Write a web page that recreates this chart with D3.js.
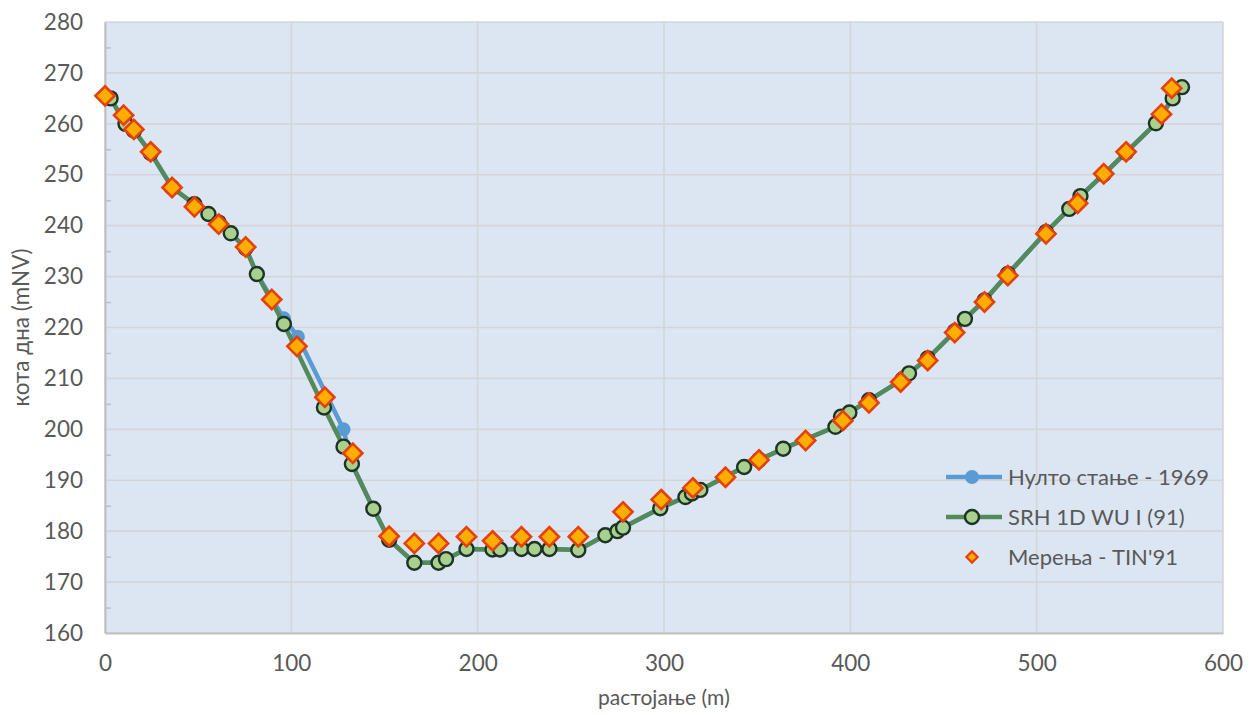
<!DOCTYPE html>
<html>
<head>
<meta charset="utf-8">
<script src="https://cdn.jsdelivr.net/npm/d3@7"></script>
<style>
  html, body { margin: 0; padding: 0; background: #ffffff; }
  svg { display: block; }
  text { font-family: Lato, "Open Sans", sans-serif; fill: #595959; }
</style>
</head>
<body>
<svg id="chart" width="1257" height="715"></svg>
<script>
// Cross-section of the river bed: distance (m) vs bed elevation (mNV)

// Нулто стање - 1969
const baseDist = [3, 11, 15.5, 24.5, 36, 48, 55.5, 61, 67.5, 75.5, 81.5, 96, 103.5, 128, 132.5, 144, 152.5, 166, 179, 183, 194, 208, 212, 223.5, 230.5, 238.5, 254, 268.5, 275, 278, 298, 311.5, 315, 319.5, 343, 351, 364, 392, 395, 399.5, 410, 428, 431.5, 441.5, 456, 461.5, 472, 484.5, 505, 517.5, 523.5, 536, 548, 564, 573, 578];
const baseElev = [265, 260, 258.7, 254.3, 247.5, 244.2, 242.3, 240.6, 238.5, 235.6, 230.5, 221.8, 218.2, 200, 193.2, 184.4, 178.3, 173.8, 173.8, 174.5, 176.5, 176.4, 176.4, 176.5, 176.5, 176.5, 176.3, 179.2, 180, 180.7, 184.5, 186.7, 187.4, 188.1, 192.6, 194, 196.2, 200.5, 202.5, 203.3, 205.7, 209.8, 211, 213.9, 219.2, 221.7, 225.3, 230.5, 238.7, 243.3, 245.8, 250.1, 254.4, 260.1, 265, 267.2];

// SRH 1D WU I (91)
const srhDist = [3, 11, 15.5, 24.5, 36, 48, 55.5, 61, 67.5, 75.5, 81.5, 96, 117.5, 128, 132.5, 144, 152.5, 166, 179, 183, 194, 208, 212, 223.5, 230.5, 238.5, 254, 268.5, 275, 278, 298, 311.5, 315, 319.5, 343, 351, 364, 392, 395, 399.5, 410, 428, 431.5, 441.5, 456, 461.5, 472, 484.5, 505, 517.5, 523.5, 536, 548, 564, 573, 578];
const srhElev = [265, 260, 258.7, 254.3, 247.5, 244.2, 242.3, 240.6, 238.5, 235.6, 230.5, 220.7, 204.3, 196.6, 193.2, 184.4, 178.3, 173.8, 173.8, 174.5, 176.5, 176.4, 176.4, 176.5, 176.5, 176.5, 176.3, 179.2, 180, 180.7, 184.5, 186.7, 187.4, 188.1, 192.6, 194, 196.2, 200.5, 202.5, 203.3, 205.7, 209.8, 211, 213.9, 219.2, 221.7, 225.3, 230.5, 238.7, 243.3, 245.8, 250.1, 254.4, 260.1, 265, 267.2];

// Мерења - TIN'91
const tinDist = [0, 10, 15.5, 24.5, 36, 48, 61, 75.5, 89.5, 103, 118, 133, 152.5, 166, 179, 194, 208, 223.5, 238.5, 254, 278, 298.5, 315.5, 333, 351, 376, 396, 410, 427, 441.5, 456, 472, 484.5, 505, 522, 536, 548, 567, 572.5];
const tinElev = [265.5, 261.7, 258.9, 254.5, 247.5, 243.7, 240.3, 235.8, 225.5, 216.3, 206.3, 195.3, 179, 177.6, 177.6, 178.9, 178.1, 178.9, 178.9, 178.9, 183.8, 186.2, 188.5, 190.6, 194, 197.8, 201.7, 205.2, 209.3, 213.5, 219, 225, 230.2, 238.4, 244.4, 250.2, 254.5, 261.9, 267];

const xTicks = [0, 100, 200, 300, 400, 500, 600];
const yTicks = [160, 170, 180, 190, 200, 210, 220, 230, 240, 250, 260, 270, 280];
const yMinorTicks = [165, 175, 185, 195, 205, 215, 225, 235, 245, 255, 265, 275];

const seriesNames = ["Нулто стање - 1969", "SRH 1D WU I (91)", "Мерења - TIN'91"];
const xTitle = "растојање (m)";
const yTitle = "кота дна (mNV)";

const zip = (xs, ys) => xs.map((d, i) => ({ x: d, y: ys[i] }));
const base = zip(baseDist, baseElev);
const srh = zip(srhDist, srhElev);
const tin = zip(tinDist, tinElev);

const svg = d3.select("#chart");
const plot = { left: 105, top: 22, right: 1223, bottom: 633 };

const x = d3.scaleLinear().domain([0, 600]).range([plot.left, plot.right]);
const y = d3.scaleLinear().domain([160, 280]).range([plot.bottom, plot.top]);

// plot area background
svg.append("rect")
  .attr("x", plot.left).attr("y", plot.top)
  .attr("width", plot.right - plot.left).attr("height", plot.bottom - plot.top)
  .attr("fill", "#dce6f2");

// gridlines
const grid = svg.append("g").attr("stroke", "#d2d6db").attr("stroke-width", 1.6);
grid.selectAll("line.h").data(yTicks).join("line")
  .attr("x1", plot.left).attr("x2", plot.right)
  .attr("y1", d => y(d)).attr("y2", d => y(d));
grid.selectAll("line.v").data(xTicks).join("line")
  .attr("y1", plot.top).attr("y2", plot.bottom)
  .attr("x1", d => x(d)).attr("x2", d => x(d));

// axes
const yAxis = d3.axisLeft(y).tickValues(yTicks).tickSize(0).tickPadding(22).tickFormat(d3.format("d"));
const gy = svg.append("g").attr("transform", `translate(${plot.left},0)`).call(yAxis);
gy.select(".domain").attr("stroke", "#bfbfbf").attr("stroke-width", 2);
gy.selectAll("text").attr("font-size", 22.5).attr("fill", "#595959").style("font-family", "Lato, sans-serif");

// minor ticks on the vertical axis
const yMinor = d3.axisRight(y).tickValues(yMinorTicks).tickSize(6).tickFormat("");
const gym = svg.append("g").attr("transform", `translate(${plot.left},0)`).call(yMinor);
gym.select(".domain").remove();
gym.selectAll("line").attr("stroke", "#bfbfbf").attr("stroke-width", 1.5);

const xAxis = d3.axisBottom(x).tickValues(xTicks).tickSize(0).tickPadding(22).tickFormat(d3.format("d"));
const gx = svg.append("g").attr("transform", `translate(0,${plot.bottom})`).call(xAxis);
gx.select(".domain").attr("stroke", "#bfbfbf").attr("stroke-width", 2);
gx.selectAll("text").attr("font-size", 22.5).attr("fill", "#595959").style("font-family", "Lato, sans-serif");

// axis titles
svg.append("text")
  .attr("x", (plot.left + plot.right) / 2).attr("y", 705)
  .attr("text-anchor", "middle").attr("font-size", 21)
  .text(xTitle);
svg.append("text")
  .attr("transform", `translate(29,${(plot.top + plot.bottom) / 2}) rotate(-90)`)
  .attr("text-anchor", "middle").attr("font-size", 22.5)
  .text(yTitle);

const line = d3.line().x(d => x(d.x)).y(d => y(d.y));
const diamond = d3.symbol().type(d3.symbolDiamond2).size(235);

// Нулто стање - 1969
svg.append("path").datum(base)
  .attr("d", line).attr("fill", "none")
  .attr("stroke", "#5b9bd5").attr("stroke-width", 4.5).attr("stroke-linejoin", "round");
svg.append("g").selectAll("circle").data(base).join("circle")
  .attr("cx", d => x(d.x)).attr("cy", d => y(d.y)).attr("r", 7)
  .attr("fill", "#5b9bd5");

// SRH 1D WU I (91)
svg.append("path").datum(srh)
  .attr("d", line).attr("fill", "none")
  .attr("stroke", "#548a5a").attr("stroke-width", 4.5).attr("stroke-linejoin", "round");
svg.append("g").selectAll("circle").data(srh).join("circle")
  .attr("cx", d => x(d.x)).attr("cy", d => y(d.y)).attr("r", 7)
  .attr("fill", "#a9d18e").attr("stroke", "#1c3325").attr("stroke-width", 2.4);

// Мерења - TIN'91
svg.append("g").selectAll("path").data(tin).join("path")
  .attr("transform", d => `translate(${x(d.x)},${y(d.y)})`)
  .attr("d", diamond)
  .attr("fill", "#ffae00").attr("stroke", "#e5400e").attr("stroke-width", 2.6)
  .attr("stroke-linejoin", "miter");

// legend
const legend = svg.append("g").attr("transform", "translate(946,0)");
const rows = [477, 517, 557];
// row 1
legend.append("line").attr("x1", 0).attr("x2", 56).attr("y1", rows[0]).attr("y2", rows[0])
  .attr("stroke", "#5b9bd5").attr("stroke-width", 4.5);
legend.append("circle").attr("cx", 26).attr("cy", rows[0]).attr("r", 7).attr("fill", "#5b9bd5");
// row 2
legend.append("line").attr("x1", 0).attr("x2", 56).attr("y1", rows[1]).attr("y2", rows[1])
  .attr("stroke", "#548a5a").attr("stroke-width", 4.5);
legend.append("circle").attr("cx", 26).attr("cy", rows[1]).attr("r", 7)
  .attr("fill", "#a9d18e").attr("stroke", "#1c3325").attr("stroke-width", 2.4);
// row 3
legend.append("path").attr("transform", `translate(26,${rows[2]})`)
  .attr("d", d3.symbol().type(d3.symbolDiamond2).size(80))
  .attr("fill", "#ffae00").attr("stroke", "#e5400e").attr("stroke-width", 2.2);

legend.selectAll("text.lbl").data(seriesNames).join("text")
  .attr("class", "lbl")
  .attr("x", 62).attr("y", (d, i) => rows[i])
  .attr("dy", "0.35em").attr("font-size", 22)
  .text(d => d);
</script>
</body>
</html>
